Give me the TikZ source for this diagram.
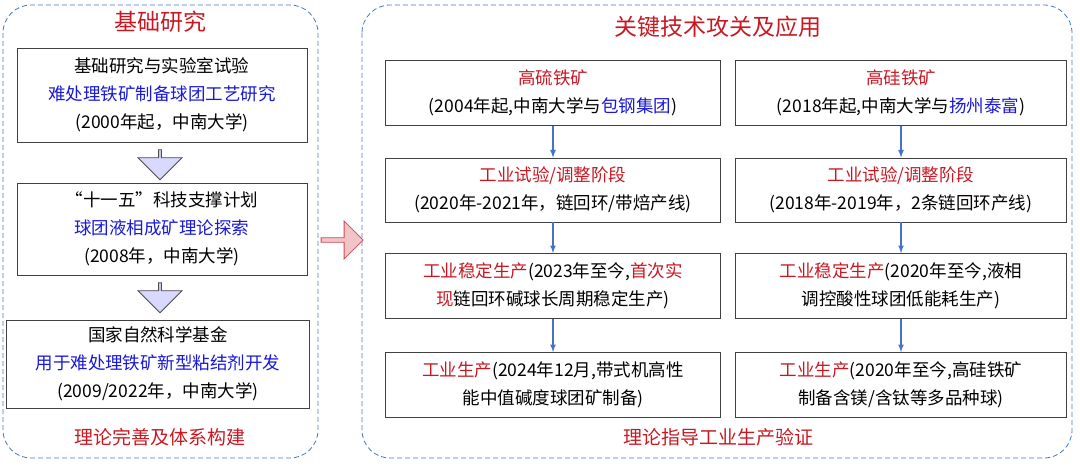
\documentclass[tikz,border=0pt]{standalone}
\usepackage{fontspec}
\setmainfont{Noto Sans CJK SC}
\usetikzlibrary{shapes.arrows}
\definecolor{tred}{RGB}{200,25,35}
\definecolor{tblue}{RGB}{25,25,215}
\definecolor{frameblue}{RGB}{70,120,200}
\definecolor{arrowblue}{RGB}{70,115,200}
\tikzset{
  panel/.style={draw=frameblue, dash pattern=on 5pt off 3pt, thick, rounded corners=28pt},
  stage/.style={draw=black!75, thick, fill=white, align=center, inner sep=0, font=\fontsize{17.5}{28}\selectfont},
  head/.style={text=tred, font=\fontsize{23}{24}\selectfont},
  foot/.style={text=tred, font=\fontsize{19}{20}\selectfont},
  flow/.style={arrowblue, line width=1.6pt, -latex},
  hollow/.style={single arrow, draw=black!70, thick, fill=blue!15, shape border rotate=270, minimum width=44pt,
      single arrow head extend=6pt, single arrow tip angle=90, minimum height=30pt, inner sep=0}
}
\newcommand{\rd}[1]{\textcolor{tred}{#1}}
\newcommand{\bl}[1]{\textcolor{tblue}{#1}}
\begin{document}
\begin{tikzpicture}[x=1pt, y=-1pt]
    \useasboundingbox (0,0) rectangle (1080,468);
    \draw[panel] (3,5) rectangle (318,458);
    \draw[panel] (362,5) rectangle (1072,458);
    \node[head] (lt) at (160,22) {基础研究};
    \node[head] (rt) at (718,27) {关键技术攻关及应用};
    \node[foot] (lf) at (160,437) {理论完善及体系构建};
    \node[foot] (rf) at (718,437) {理论指导工业生产验证};

    % basic research
    \node[stage, minimum width=290pt, minimum height=94pt] (b1) at (162,95)
      {基础研究与实验室试验\\ \bl{难处理铁矿制备球团工艺研究}\\ (2000年起，中南大学)};
    \node[stage, minimum width=290pt, minimum height=92pt] (b2) at (162,229)
      {“十一五”科技支撑计划\\ \bl{球团液相成矿理论探索}\\ (2008年，中南大学)};
    \node[stage, minimum width=303pt, minimum height=88pt] (b3) at (158,364)
      {国家自然科学基金\\ \bl{用于难处理铁矿新型粘结剂开发}\\ (2009/2022年，中南大学)};
    \node[hollow] (a1) at (160,164) {};
    \node[hollow] (a2) at (160,297) {};
    \node[single arrow, draw=tred!80, thick, fill=tred!25, minimum width=38pt,
      single arrow head extend=3pt, minimum height=42pt, inner sep=0] (a3) at (341,240) {};

    % left column
    \node[stage, minimum width=335pt, minimum height=65pt] (h1) at (553,93)
      {\rd{高硫铁矿}\\ (2004年起,中南大学与\bl{包钢集团})};
    \node[stage, minimum width=335pt, minimum height=64pt] (h2) at (553,190)
      {\rd{工业试验/调整阶段}\\ (2020年-2021年，链回环/带焙产线)};
    \node[stage, minimum width=335pt, minimum height=65pt] (h3) at (553,286)
      {\rd{工业稳定生产}(2023年至今,\rd{首次实}\\ \rd{现}链回环碱球长周期稳定生产)};
    \node[stage, minimum width=335pt, minimum height=65pt] (h4) at (553,385)
      {\rd{工业生产}(2024年12月,带式机高性\\ 能中值碱度球团矿制备)};
    % right column
    \node[stage, minimum width=331pt, minimum height=65pt] (s1) at (901,93)
      {\rd{高硅铁矿}\\ (2018年起,中南大学与\bl{扬州泰富})};
    \node[stage, minimum width=331pt, minimum height=64pt] (s2) at (901,190)
      {\rd{工业试验/调整阶段}\\ (2018年-2019年，2条链回环产线)};
    \node[stage, minimum width=331pt, minimum height=65pt] (s3) at (901,286)
      {\rd{工业稳定生产}(2020年至今,液相\\ 调控酸性球团低能耗生产)};
    \node[stage, minimum width=331pt, minimum height=65pt] (s4) at (901,385)
      {\rd{工业生产}(2020年至今,高硅铁矿\\ 制备含镁/含钛等多品种球)};

    \foreach \a/\b in {h1/h2,h2/h3,h3/h4,s1/s2,s2/s3,s3/s4}
      \draw[flow] (\a) -- (\b);
\end{tikzpicture}
\end{document}
